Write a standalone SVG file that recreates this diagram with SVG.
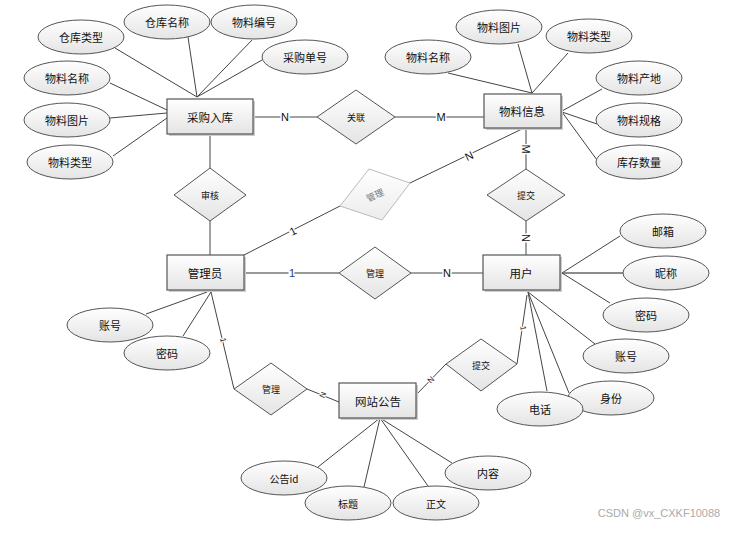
<svg xmlns="http://www.w3.org/2000/svg" width="742" height="533" viewBox="0 0 742 533">
<defs>
<linearGradient id="g" x1="0" y1="0" x2="0" y2="1">
<stop offset="0" stop-color="#ffffff"/>
<stop offset="1" stop-color="#e4e4e4"/>
</linearGradient>
<linearGradient id="gl" x1="0" y1="0" x2="0" y2="1">
<stop offset="0" stop-color="#ffffff"/>
<stop offset="1" stop-color="#ececec"/>
</linearGradient>
</defs>
<style>
text{font-family:"Noto Sans CJK SC","Liberation Sans",sans-serif;fill:#111;text-anchor:middle;dominant-baseline:central}
.e{fill:url(#g);stroke:#555;stroke-width:1}
.r{fill:url(#g);stroke:#555;stroke-width:1.2}
.sh{fill:#cccccc}
.d{fill:url(#g);stroke:#555;stroke-width:1}
.dl{fill:url(#gl);stroke:#bbb;stroke-width:1}
.t1{font-size:11.5px}
.t2{font-size:11px}
.t3{font-size:9px}
.t4{font-size:10px}
.lb{font-size:11px;font-family:"Liberation Sans",sans-serif;stroke:#fff;stroke-width:3;paint-order:stroke}
.lbs{font-size:8px;font-family:"Liberation Sans",sans-serif;stroke:#fff;stroke-width:2;paint-order:stroke}
#conn line,#conn polyline{stroke:#444;stroke-width:1;fill:none}
</style>
<rect width="742" height="533" fill="#fff"/>
<g id="conn">
<line x1="115" y1="48" x2="197" y2="97"/>
<line x1="188" y1="37" x2="197" y2="97"/>
<line x1="252" y1="40" x2="197" y2="97"/>
<line x1="262" y1="60" x2="197" y2="97"/>
<line x1="110" y1="83" x2="167" y2="110"/>
<line x1="110" y1="118" x2="167" y2="113"/>
<line x1="113" y1="156" x2="167" y2="118"/>
<line x1="253" y1="117" x2="317" y2="117"/>
<line x1="395" y1="117" x2="484" y2="117"/>
<line x1="210" y1="134" x2="210" y2="168"/>
<line x1="210" y1="221" x2="210" y2="255"/>
<line x1="448" y1="73" x2="532" y2="93"/>
<line x1="518" y1="44" x2="532" y2="93"/>
<line x1="568" y1="53" x2="532" y2="93"/>
<line x1="602" y1="89" x2="562" y2="111"/>
<line x1="562" y1="112" x2="597" y2="124"/>
<line x1="562" y1="112" x2="597" y2="160"/>
<line x1="526" y1="128" x2="526" y2="169"/>
<line x1="526" y1="221" x2="526" y2="255"/>
<line x1="522" y1="129" x2="410" y2="183"/>
<line x1="244" y1="255" x2="340" y2="206"/>
<line x1="244" y1="273" x2="339" y2="273" style="stroke:#777;stroke-width:1.6"/>
<line x1="411" y1="273" x2="483" y2="273"/>
<line x1="146" y1="314" x2="207" y2="292"/>
<line x1="183" y1="336" x2="211" y2="292"/>
<line x1="211" y1="292" x2="234" y2="389"/>
<line x1="307" y1="389" x2="339" y2="402"/>
<line x1="620" y1="236" x2="562" y2="273"/>
<line x1="562" y1="273" x2="623" y2="273" style="stroke:#666;stroke-width:1.4"/>
<line x1="562" y1="273" x2="610" y2="303"/>
<line x1="528" y1="292" x2="595" y2="344"/>
<line x1="528" y1="292" x2="569" y2="393"/>
<line x1="528" y1="292" x2="547" y2="391"/>
<line x1="527" y1="295" x2="517" y2="364"/>
<line x1="446" y1="364" x2="416" y2="395"/>
<line x1="380" y1="418" x2="318" y2="467"/>
<line x1="380" y1="418" x2="364" y2="487"/>
<line x1="380" y1="418" x2="428" y2="486"/>
<line x1="380" y1="418" x2="452" y2="463"/>
<text class="lb" x="285" y="117">N</text>
<text class="lb" x="441" y="117">M</text>
<text class="lb" transform="translate(526 149) rotate(90)" x="0" y="0">M</text>
<text class="lb" transform="translate(526 238) rotate(90)" x="0" y="0">N</text>
<text class="lb" transform="translate(469 156) rotate(-26)" x="0" y="0">N</text>
<text class="lb" transform="translate(293 231) rotate(-27)" x="0" y="0">1</text>
<text class="lb" x="292" y="273" style="fill:#1a3a8a">1</text>
<text class="lb" x="447" y="273">N</text>
<text class="lbs" transform="translate(223 340) rotate(77)" x="0" y="0">1</text>
<text class="lbs" transform="translate(323 395) rotate(-68)" x="0" y="0">N</text>
<text class="lbs" transform="translate(523 328) rotate(82)" x="0" y="0">1</text>
<text class="lbs" transform="translate(431 380) rotate(-45)" x="0" y="0">N</text>
</g>
<g id="e-caigou">
<rect class="sh" x="169" y="101" width="86" height="35"/>
<rect class="r" x="167" y="99" width="86" height="35"/>
<text class="t1" x="210" y="116.5">采购入库</text>
</g>
<g id="e-wuliao">
<rect class="sh" x="486" y="96" width="77" height="34"/>
<rect class="r" x="484" y="94" width="77" height="34"/>
<text class="t1" x="522" y="111">物料信息</text>
</g>
<g id="e-admin">
<rect class="sh" x="169" y="257" width="77" height="35"/>
<rect class="r" x="167" y="255" width="77" height="35"/>
<text class="t1" x="205" y="272.5">管理员</text>
</g>
<g id="e-user">
<rect class="sh" x="485" y="257" width="77" height="35"/>
<rect class="r" x="483" y="255" width="77" height="35"/>
<text class="t1" x="521" y="272.5">用户</text>
</g>
<g id="e-notice">
<rect class="sh" x="341" y="385" width="77" height="35"/>
<rect class="r" x="339" y="383" width="77" height="35"/>
<text class="t1" x="378" y="400.5">网站公告</text>
</g>
<g id="r-guanlian">
<polygon class="d" points="356,90 395,117 356,144 317,117"/>
<text class="t3" x="356" y="117">关联</text>
</g>
<g id="r-shenhe">
<polygon class="d" points="210,168 246,195 210,221 174,195"/>
<text class="t3" x="210" y="195">审核</text>
</g>
<g id="r-guanli-gray">
<polygon class="dl" points="369,169 410,183 382,220 340,206"/>
<text class="t3" transform="translate(375 195) rotate(-25)" x="0" y="0" style="fill:#777">管理</text>
</g>
<g id="r-tijiao-top">
<polygon class="d" points="526,169 565,195 526,221 487,195"/>
<text class="t3" x="526" y="195">提交</text>
</g>
<g id="r-guanli-mid">
<polygon class="d" points="375,247 411,273 375,299 339,273"/>
<text class="t3" x="375" y="273">管理</text>
</g>
<g id="r-guanli-bot">
<polygon class="d" points="271,363 307,389 271,415 234,389"/>
<text class="t3" x="271" y="389">管理</text>
</g>
<g id="r-tijiao-bot">
<polygon class="d" points="481,339 517,364 481,391 446,364"/>
<text class="t3" x="481" y="365">提交</text>
</g>
<g id="a-cangkuleixing"><ellipse class="e" cx="81" cy="37" rx="43" ry="17"/><text class="t2" x="81" y="37">仓库类型</text></g>
<g id="a-cangkumingcheng"><ellipse class="e" cx="167" cy="22" rx="43" ry="17"/><text class="t2" x="167" y="22">仓库名称</text></g>
<g id="a-wuliaobianhao"><ellipse class="e" cx="254" cy="22" rx="43" ry="17"/><text class="t2" x="254" y="22">物料编号</text></g>
<g id="a-caigoudanhao"><ellipse class="e" cx="305" cy="57" rx="43" ry="17"/><text class="t2" x="305" y="57">采购单号</text></g>
<g id="a-wlmc1"><ellipse class="e" cx="67" cy="78" rx="43" ry="17"/><text class="t2" x="67" y="78">物料名称</text></g>
<g id="a-wltp1"><ellipse class="e" cx="67" cy="120" rx="43" ry="17"/><text class="t2" x="67" y="120">物料图片</text></g>
<g id="a-wllx1"><ellipse class="e" cx="70" cy="162" rx="43" ry="17"/><text class="t2" x="70" y="162">物料类型</text></g>
<g id="a-wlmc2"><ellipse class="e" cx="428" cy="57" rx="43" ry="17"/><text class="t2" x="428" y="57">物料名称</text></g>
<g id="a-wltp2"><ellipse class="e" cx="499" cy="27" rx="43" ry="17"/><text class="t2" x="499" y="27">物料图片</text></g>
<g id="a-wllx2"><ellipse class="e" cx="589" cy="36" rx="43" ry="17"/><text class="t2" x="589" y="36">物料类型</text></g>
<g id="a-wlcd"><ellipse class="e" cx="639" cy="78" rx="43" ry="17"/><text class="t2" x="639" y="78">物料产地</text></g>
<g id="a-wlgg"><ellipse class="e" cx="639" cy="120" rx="43" ry="17"/><text class="t2" x="639" y="120">物料规格</text></g>
<g id="a-kcsl"><ellipse class="e" cx="639" cy="162" rx="43" ry="17"/><text class="t2" x="639" y="162">库存数量</text></g>
<g id="a-zh1"><ellipse class="e" cx="110" cy="325" rx="43" ry="17"/><text class="t2" x="110" y="325">账号</text></g>
<g id="a-mm1"><ellipse class="e" cx="167" cy="353" rx="43" ry="17"/><text class="t2" x="167" y="353">密码</text></g>
<g id="a-yx"><ellipse class="e" cx="663" cy="231" rx="43" ry="17"/><text class="t2" x="663" y="231">邮箱</text></g>
<g id="a-nc"><ellipse class="e" cx="666" cy="273" rx="43" ry="17"/><text class="t2" x="666" y="273">昵称</text></g>
<g id="a-mm2"><ellipse class="e" cx="646" cy="315" rx="43" ry="17"/><text class="t2" x="646" y="315">密码</text></g>
<g id="a-zh2"><ellipse class="e" cx="626" cy="356" rx="43" ry="17"/><text class="t2" x="626" y="356">账号</text></g>
<g id="a-sf"><ellipse class="e" cx="611" cy="398" rx="43" ry="17"/><text class="t2" x="611" y="398">身份</text></g>
<g id="a-dh"><ellipse class="e" cx="540" cy="409" rx="43" ry="17"/><text class="t2" x="540" y="409">电话</text></g>
<g id="a-ggid"><ellipse class="e" cx="284" cy="478" rx="43" ry="17"/><text class="t4" x="284" y="478">公告id</text></g>
<g id="a-bt"><ellipse class="e" cx="348" cy="503" rx="43" ry="17"/><text class="t4" x="348" y="503">标题</text></g>
<g id="a-zw"><ellipse class="e" cx="436" cy="503" rx="43" ry="17"/><text class="t4" x="436" y="503">正文</text></g>
<g id="a-nr"><ellipse class="e" cx="488" cy="473" rx="43" ry="17"/><text class="t2" x="488" y="473">内容</text></g>
<text x="659" y="513" style="font-size:11px;fill:#aaa;font-family:'Liberation Sans',sans-serif">CSDN @vx_CXKF10088</text>
</svg>
